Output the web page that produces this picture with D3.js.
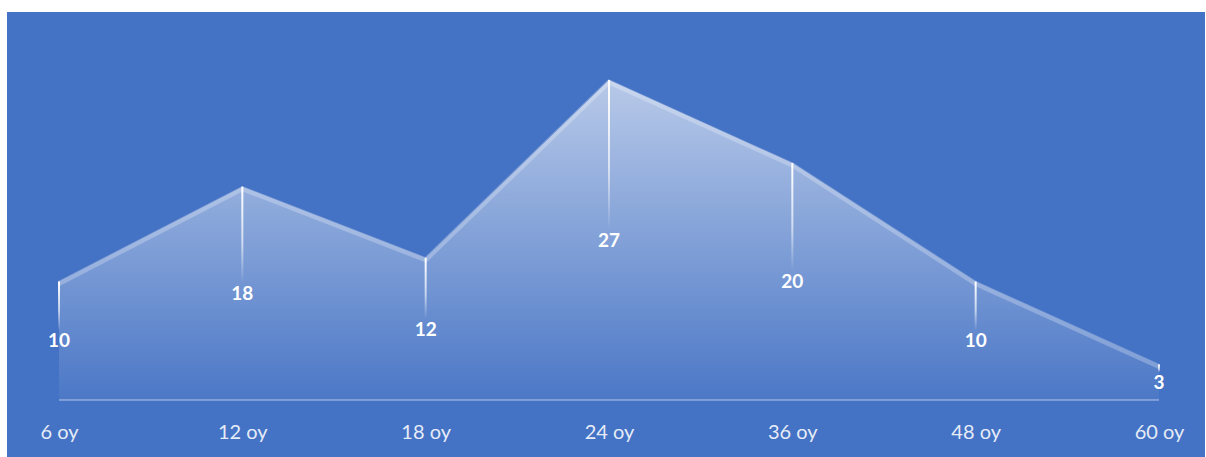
<!DOCTYPE html>
<html>
<head>
<meta charset="utf-8">
<script src="https://cdn.jsdelivr.net/npm/d3@7"></script>
<style>
  body { margin: 0; background: #fff; }
  svg { display: block; }
</style>
</head>
<body>
<div id="chart"></div>
<script>
// data
var categories = ["6 oy", "12 oy", "18 oy", "24 oy", "36 oy", "48 oy", "60 oy"];
var values = [10, 18, 12, 27, 20, 10, 3];

var svgWidth = 1206;
var svgHeight = 457;

var svg = d3.select("#chart")
  .append("svg")
  .attr("width", svgWidth)
  .attr("height", svgHeight);

// blue panel
svg.append("rect")
  .attr("x", 7)
  .attr("y", 12)
  .attr("width", 1198)
  .attr("height", 445)
  .attr("fill", "#4472c4");

var data = categories.map((c, i) => ({ cat: c, val: values[i] }));

var x = d3.scalePoint()
  .domain(categories)
  .range([59, 1159]);

var y = d3.scaleLinear()
  .domain([0, 27])
  .range([400, 80]);

var defs = svg.append("defs");

var areaGrad = defs.append("linearGradient")
  .attr("id", "areaGrad")
  .attr("gradientUnits", "userSpaceOnUse")
  .attr("x1", 0).attr("y1", y(27))
  .attr("x2", 0).attr("y2", y(0));
areaGrad.append("stop").attr("offset", "0%").attr("stop-color", "#fff").attr("stop-opacity", 0.62);
areaGrad.append("stop").attr("offset", "100%").attr("stop-color", "#fff").attr("stop-opacity", 0.04);

// fading drop line gradient
var lineGrad = defs.append("linearGradient")
  .attr("id", "lineGrad")
  .attr("x1", 0).attr("y1", 0)
  .attr("x2", 0).attr("y2", 1);
lineGrad.append("stop").attr("offset", "0%").attr("stop-color", "#fff").attr("stop-opacity", 1);
lineGrad.append("stop").attr("offset", "60%").attr("stop-color", "#fff").attr("stop-opacity", 0.6);
lineGrad.append("stop").attr("offset", "100%").attr("stop-color", "#fff").attr("stop-opacity", 0);

var area = d3.area()
  .x(d => x(d.cat))
  .y0(y(0))
  .y1(d => y(d.val));

svg.append("path")
  .datum(data)
  .attr("d", area)
  .attr("fill", "url(#areaGrad)");

// soft top edge
var line = d3.line()
  .x(d => x(d.cat))
  .y(d => y(d.val) + 2);

svg.append("path")
  .datum(data)
  .attr("d", line)
  .attr("fill", "none")
  .attr("stroke", "#fff")
  .attr("stroke-opacity", 0.25)
  .attr("stroke-width", 5);

// baseline
svg.append("line")
  .attr("x1", x(categories[0]))
  .attr("x2", x(categories[categories.length - 1]))
  .attr("y1", y(0))
  .attr("y2", y(0))
  .attr("stroke", "#fff")
  .attr("stroke-opacity", 0.3)
  .attr("stroke-width", 2);

// drop lines, point down to label
svg.selectAll(".drop")
  .data(data)
  .enter()
  .append("rect")
  .attr("class", "drop")
  .attr("x", d => x(d.cat) - 1)
  .attr("y", d => y(d.val))
  .attr("width", 2)
  .attr("height", d => Math.max(4, (y(0) - y(d.val)) / 2 - 10))
  .attr("fill", "url(#lineGrad)");

// value labels
svg.selectAll(".val")
  .data(data)
  .enter()
  .append("text")
  .attr("class", "val")
  .attr("x", d => x(d.cat))
  .attr("y", d => (y(d.val) + y(0)) / 2)
  .attr("dy", "0.35em")
  .attr("text-anchor", "middle")
  .attr("font-family", "Lato, 'Open Sans', sans-serif")
  .attr("font-weight", "bold")
  .attr("font-size", 19)
  .attr("fill", "#fff")
  .text(d => d.val);

// category axis
var bottom = d3.axisBottom(x).tickSize(0).tickPadding(0);

var xaxis = svg.append("g")
  .attr("transform", "translate(0, 439)")
  .call(bottom);

xaxis.select(".domain").remove();
xaxis.selectAll("text")
  .attr("dy", 0)
  .attr("font-family", "Lato, 'Open Sans', sans-serif")
  .attr("font-size", 20)
  .attr("fill", "#e6ecf7");
</script>
</body>
</html>
